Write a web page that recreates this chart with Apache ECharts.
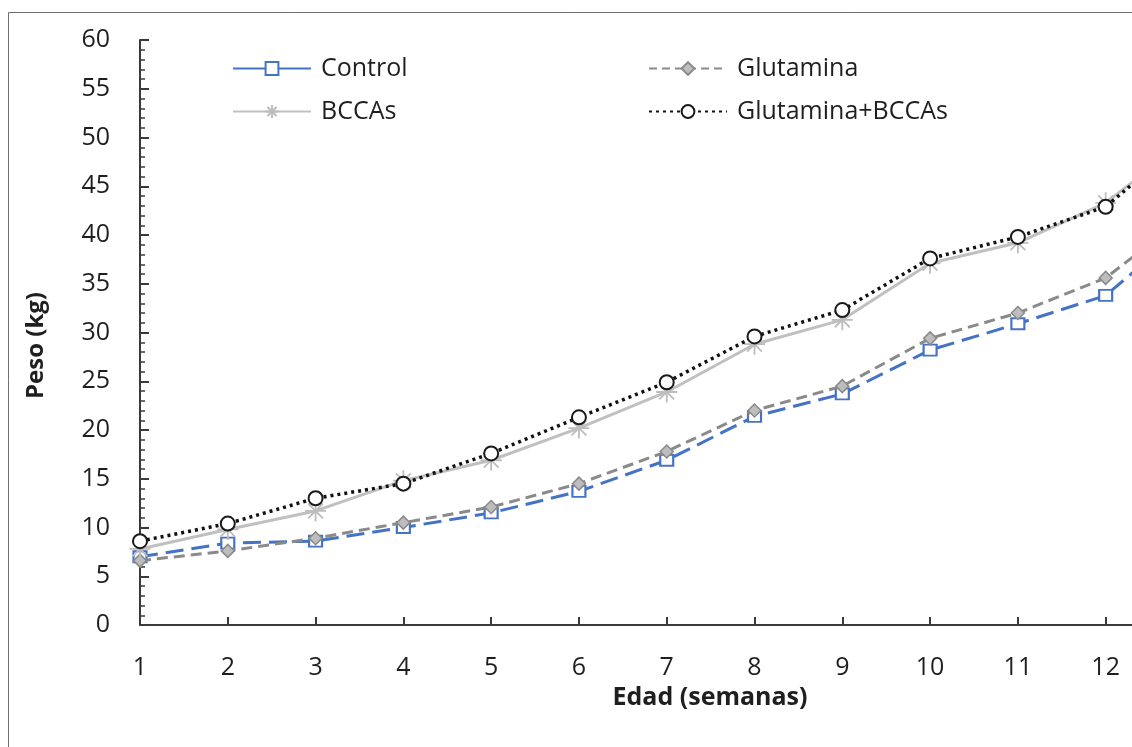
<!DOCTYPE html>
<html>
<head>
<meta charset="utf-8">
<style>
  html, body { margin: 0; padding: 0; background: #ffffff; overflow: hidden; }
  #chart { width: 1132px; height: 747px; }
</style>
<script src="https://cdn.jsdelivr.net/npm/echarts@6/dist/echarts.min.js"></script>
</head>
<body>
<div id="chart"></div>
<script>
// Edad (semanas)
const weeks = [1, 2, 3, 4, 5, 6, 7, 8, 9, 10, 11, 12, 13];
// semanas rotuladas en el eje
const weekTicks = [1, 2, 3, 4, 5, 6, 7, 8, 9, 10, 11, 12];
// Peso (kg): marcas del eje
const pesoMin = 0;
const pesoMax = 60;
const pesoStep = 5;

// Peso (kg) por grupo
const control = [7.0, 8.4, 8.6, 10.0, 11.5, 13.7, 16.9, 21.4, 23.7, 28.2, 30.9, 33.8, 41.4];
const glutamina = [6.6, 7.6, 8.9, 10.5, 12.1, 14.5, 17.8, 22.0, 24.5, 29.4, 32.0, 35.6, 42.5];
const bccas = [7.8, 9.8, 11.7, 14.8, 16.9, 20.2, 23.9, 28.8, 31.3, 37.1, 39.2, 43.3, 50.3];
const glutBccas = [8.6, 10.4, 13.0, 14.5, 17.6, 21.3, 24.9, 29.6, 32.3, 37.6, 39.8, 42.9, 50.5];

const FONT = 'Open Sans';
const TEXT = '#1f1f1f';
const AXIS = '#3a3a3a';

const pairs = (vals) => vals.map((v, i) => [weeks[i], v]);

// asterisk marker: vertical, horizontal and two diagonal strokes
const starPath = 'path://M10 0 L10 20 M2.93 2.93 L17.07 17.07 M2.93 17.07 L17.07 2.93 M0 10 L20 10';

const chart = echarts.init(document.getElementById('chart'), null, { renderer: 'canvas' });

const legendText = { fontFamily: FONT, fontSize: 25, color: TEXT, padding: [0, 0, 0, 5] };

chart.setOption({
  animation: false,
  backgroundColor: '#ffffff',
  grid: { left: 140, top: 40, bottom: 122, right: 0, containLabel: false },
  graphic: [{
    type: 'rect',
    shape: { x: 8.5, y: 12.5, width: 1300, height: 900 },
    style: { fill: 'none', stroke: '#6e6e6e', lineWidth: 1 },
    silent: true
  }],
  legend: [{
    left: 232, top: 56, orient: 'vertical', padding: 0,
    itemWidth: 78, itemHeight: 16, itemGap: 18,
    data: [
      { name: 'Control', lineStyle: { type: 'solid' } },
      { name: 'BCCAs' }
    ],
    textStyle: legendText
  }, {
    left: 648, top: 56, orient: 'vertical', padding: 0,
    itemWidth: 78, itemHeight: 16, itemGap: 18,
    data: [
      { name: 'Glutamina', lineStyle: { type: [8, 5] } },
      { name: 'Glutamina+BCCAs' }
    ],
    textStyle: legendText
  }],
  xAxis: {
    type: 'value',
    min: 1,
    max: 12.3,
    interval: 1,
    name: 'Edad (semanas)',
    nameLocation: 'middle',
    nameGap: 58,
    nameTextStyle: { fontFamily: FONT, fontSize: 25, fontWeight: 'bold', color: TEXT, padding: [0, 0, 0, 148] },
    axisLine: { lineStyle: { color: AXIS, width: 2 } },
    axisTick: { show: true, inside: true, length: 8, customValues: weekTicks, lineStyle: { color: AXIS, width: 2 } },
    axisLabel: { fontFamily: FONT, fontSize: 25, color: TEXT, margin: 30, customValues: weekTicks },
    splitLine: { show: false }
  },
  yAxis: {
    type: 'value',
    min: pesoMin, max: pesoMax, interval: pesoStep,
    name: 'Peso (kg)',
    nameLocation: 'middle',
    nameGap: 92,
    nameRotate: 90,
    nameTextStyle: { fontFamily: FONT, fontSize: 24, fontWeight: 'bold', color: TEXT, padding: [0, 26, 0, 0] },
    axisLine: { show: true, lineStyle: { color: AXIS, width: 2 } },
    axisTick: { show: true, inside: true, length: 9, lineStyle: { color: AXIS, width: 2 } },
    minorTick: { show: true, splitNumber: 5, length: 5, lineStyle: { color: AXIS, width: 1.5 } },
    axisLabel: { fontFamily: FONT, fontSize: 25, color: TEXT, margin: 30 },
    splitLine: { show: false }
  },
  series: [{
    name: 'Control',
    type: 'line',
    data: pairs(control),
    showAllSymbol: true,
    symbol: 'emptyRect',
    symbolSize: [13, 11],
    lineStyle: { color: '#4472C4', width: 3, type: [18, 8] },
    itemStyle: { color: '#4472C4', borderWidth: 2 },
    z: 2
  }, {
    name: 'Glutamina',
    type: 'line',
    data: pairs(glutamina),
    showAllSymbol: true,
    symbol: 'diamond',
    symbolSize: [13, 13],
    lineStyle: { color: '#8a8a8a', width: 3, type: [11, 6] },
    itemStyle: { color: '#bdbdbd', borderColor: '#8a8a8a', borderWidth: 1.5 },
    z: 3
  }, {
    name: 'BCCAs',
    type: 'line',
    data: pairs(bccas),
    showAllSymbol: true,
    symbol: starPath,
    symbolSize: 21,
    lineStyle: { color: '#c0c0c0', width: 3, type: 'solid' },
    itemStyle: { color: 'rgba(0,0,0,0)', borderColor: '#bdbdbd', borderWidth: 1.8 },
    z: 4
  }, {
    name: 'Glutamina+BCCAs',
    type: 'line',
    data: pairs(glutBccas),
    showAllSymbol: true,
    symbol: 'emptyCircle',
    symbolSize: 14,
    lineStyle: { color: '#111111', width: 3.5, type: [3, 4] },
    itemStyle: { color: '#1a1a1a', borderWidth: 2.8 },
    z: 5
  }]
});
</script>
</body>
</html>
